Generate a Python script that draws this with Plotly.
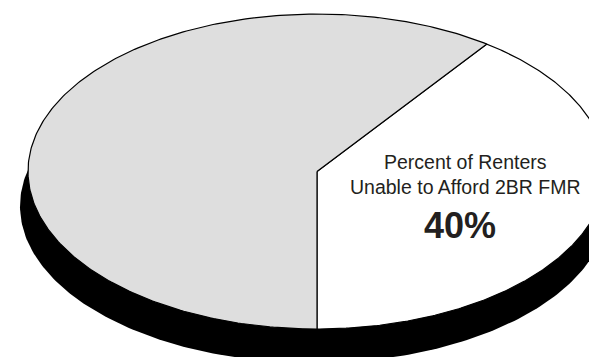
import numpy as np
import plotly.graph_objects as go

# ---- data ----
labels = ["Other Renters", "Percent of Renters Unable to Afford 2BR FMR"]
values = [60, 40]
colors = ["#dedede", "#ffffff"]
label_text = ["", "Percent of Renters<br>Unable to Afford 2BR FMR"]

# ---- geometry (pixel-like coordinates) ----
W, H = 597, 357
cx, cy, a, b = 309, 163.5, 289, 157.5          # top face
sx, sy, sa, sb = 306, 198, 294, 157            # black base/shadow


def ell(x0, y0, ra, rb, t):
    t = np.radians(t)
    return x0 + ra * np.cos(t), y0 - rb * np.sin(t)


fig = go.Figure()

# shadow
t = np.linspace(0, 360, 400)
xs, ys = ell(sx, sy, sa, sb, t)
fig.add_trace(go.Scatter(x=xs, y=ys, mode="lines", fill="toself",
                         fillcolor="black", line=dict(color="black", width=0),
                         hoverinfo="skip", showlegend=False))

# slices: the 40% slice starts at bottom (-90 deg) and runs counter-clockwise
total = sum(values)
start = -90.0
order = [1, 0]
for i in order:
    span = values[i] / total * 360.0
    t = np.linspace(start, start + span, 300)
    ex, ey = ell(cx, cy, a, b, t)
    px = np.concatenate([[cx], ex, [cx]])
    py = np.concatenate([[cy], ey, [cy]])
    fig.add_trace(go.Scatter(x=px, y=py, mode="lines", fill="toself",
                             fillcolor=colors[i],
                             line=dict(color="black", width=1.2),
                             name=labels[i], hoverinfo="name",
                             showlegend=False))
    start += span

fig.add_annotation(x=457, y=166, text=label_text[1], showarrow=False,
                   font=dict(family="Liberation Sans, Arial", size=19.5,
                             color="#231f20"),
                   xanchor="center", yanchor="middle", align="center")
fig.add_annotation(x=452, y=217, text=f"<b>{values[1]}%</b>", showarrow=False,
                   font=dict(family="Liberation Sans, Arial", size=36,
                             color="#231f20"),
                   xanchor="center", yanchor="middle")

fig.update_layout(
    width=W, height=H,
    margin=dict(l=0, r=0, t=0, b=0),
    paper_bgcolor="white", plot_bgcolor="white",
    xaxis=dict(range=[0, W], visible=False, fixedrange=True),
    yaxis=dict(range=[H, 0], visible=False, fixedrange=True),
)

fig.write_html("out.html")
